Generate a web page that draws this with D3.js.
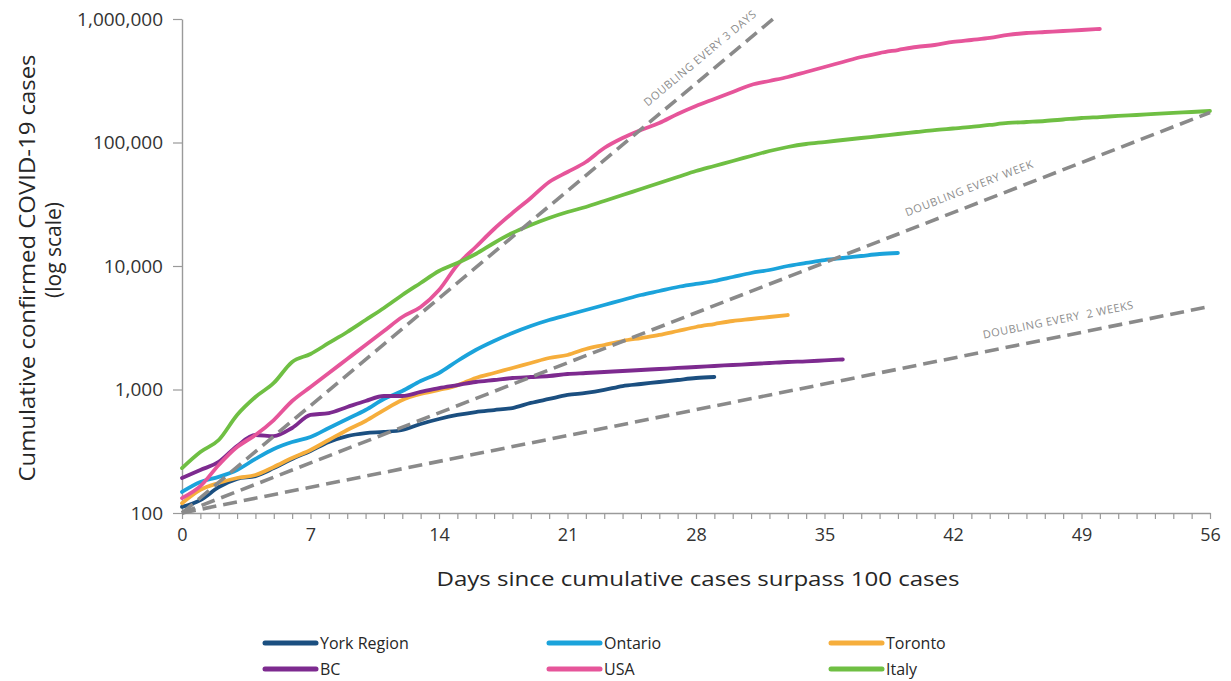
<!DOCTYPE html>
<html>
<head>
<meta charset="utf-8">
<script src="https://cdn.jsdelivr.net/npm/d3@7"></script>
<style>
  body { margin: 0; background: #fff; }
</style>
</head>
<body>
<div id="chart"></div>
<script>
// cumulative cases, one value per day since the 100th case (day 0 first)
var yorkRegion = [112, 127, 162, 189, 199, 231, 274, 318, 376, 420, 444, 453, 470, 526, 577, 622, 657, 682, 708, 778,
  838, 903, 937, 991, 1067, 1108, 1150, 1194, 1239, 1262];
var ontario = [148, 178, 196, 223, 274, 330, 376, 413, 488, 577, 682, 838, 972, 1172, 1360, 1701, 2088, 2470, 2868, 3268,
  3653, 4011, 4402, 4833, 5305, 5825, 6276, 6761, 7150, 7560, 8145, 8777, 9282, 10000, 10580, 11180, 11610, 12050, 12510, 12740];
var toronto = [120, 154, 175, 192, 203, 236, 279, 324, 390, 470, 556, 682, 822, 920, 991, 1080, 1240, 1360, 1494, 1639,
  1799, 1903, 2128, 2293, 2470, 2612, 2763, 2976, 3207, 3391, 3586, 3722, 3864, 4011];
var bc = [192, 223, 259, 349, 428, 420, 488, 622, 645, 722, 807, 886, 886, 955, 1028, 1087, 1150, 1194, 1239, 1262,
  1286, 1335, 1360, 1386, 1412, 1439, 1466, 1494, 1521, 1550, 1579, 1609, 1639, 1670, 1690, 1720, 1750];
var usa = [132, 165, 245, 342, 428, 566, 807, 1048, 1360, 1766, 2293, 2976, 3864, 4656, 6392, 10190, 14250, 19940, 26860, 35530,
  47880, 57690, 69530, 90260, 108750, 126200, 143850, 170100, 197500, 225000, 256400, 292200, 314800, 339200, 372300, 408700,
  448600, 492400, 530400, 561000, 593300, 615900, 651400, 676100, 701900, 742200, 770400, 784900, 799600, 814700, 829800];
var italy = [231, 312, 390, 622, 870, 1129, 1670, 1939, 2380, 2922, 3653, 4570, 5825, 7285, 9110, 10580, 12510, 15360, 18500, 21480,
  24480, 27370, 30040, 33600, 37570, 42020, 46990, 52560, 58780, 64520, 70850, 77760, 85370, 91950, 97250, 100900, 104760,
  108750, 112870, 117200, 121600, 126200, 129800, 133600, 138700, 143900, 146600, 149300, 153500, 157900, 160800, 164000,
  167000, 170200, 173400, 176600, 179900];

var seriesNames = ["York Region", "Ontario", "Toronto", "BC", "USA", "Italy"];
var seriesValues = [yorkRegion, ontario, toronto, bc, usa, italy];

// reference lines all start at 100 cases on day 0: [day, cases] at the end
var guideNames = ["DOUBLING EVERY 3 DAYS", "DOUBLING EVERY WEEK", "DOUBLING EVERY  2 WEEKS"];
var guideEnds = [[32.2, 1000000], [56, 175000], [56, 4700]];
var guideLabelDays = [28.8, 43.2, 47.9];
var guideLabelLen = [142, 136, 153];

var yTicks = [100, 1000, 10000, 100000, 1000000];
var xDays = d3.range(0, 57);

var colors = ["#1b4f80", "#1ba3db", "#f6ae3c", "#7d2a8f", "#e6559a", "#6fbf43"];

var svgWidth = 1231;
var svgHeight = 681;

var margin = {
  top: 19,
  right: 21,
  bottom: 168,
  left: 182
};

var width = svgWidth - margin.left - margin.right;
var height = svgHeight - margin.top - margin.bottom;

var svg = d3.select("#chart")
  .append("svg")
  .attr("width", svgWidth)
  .attr("height", svgHeight)
  .style("font-family", "'Open Sans', sans-serif");

var chartGroup = svg.append("g")
  .attr("transform", `translate(${margin.left}, ${margin.top})`);

// scales
var xScale = d3.scaleLinear().domain([0, 56]).range([0, width]);
var yScale = d3.scaleLog().domain([100, 1000000]).range([height, 0]);

// axes
var xAxis = d3.axisBottom(xScale)
  .tickValues(xDays)
  .tickSize(6)
  .tickSizeOuter(0)
  .tickPadding(9)
  .tickFormat(d => d % 7 === 0 ? d : "");

var yAxis = d3.axisLeft(yScale)
  .tickValues(yTicks)
  .tickSize(9)
  .tickSizeOuter(0)
  .tickPadding(10)
  .tickFormat(d3.format(","));

var xG = chartGroup.append("g").attr("transform", `translate(0, ${height})`).call(xAxis);
var yG = chartGroup.append("g").call(yAxis);

[xG, yG].forEach(function(g) {
  g.select(".domain").attr("stroke", "#9a9a9a").attr("stroke-width", 1.4);
  g.selectAll(".tick line").attr("stroke", "#9a9a9a").attr("stroke-width", 1.2);
  g.selectAll(".tick text").attr("fill", "#333").attr("font-family", "'Open Sans', sans-serif");
});
xG.selectAll(".tick text").attr("font-size", "18px");
yG.selectAll(".tick text").attr("font-size", "19px");

// country / region lines
var line = d3.line()
  .x((d, i) => xScale(i))
  .y(d => yScale(d))
  .curve(d3.curveMonotoneX);

chartGroup.append("g")
  .selectAll("path")
  .data(seriesValues)
  .enter()
  .append("path")
  .attr("d", line)
  .attr("fill", "none")
  .attr("stroke", (d, i) => colors[i])
  .attr("stroke-width", 3.8)
  .attr("stroke-linejoin", "round")
  .attr("stroke-linecap", "round");

// doubling reference lines
var guideG = chartGroup.append("g");

guideEnds.forEach(function(end, i) {
  var x0 = xScale(0), y0 = yScale(100);
  var x1 = xScale(end[0]), y1 = yScale(end[1]);

  guideG.append("line")
    .attr("x1", x0).attr("y1", y0)
    .attr("x2", x1).attr("y2", y1)
    .attr("stroke", "#8a8a8a")
    .attr("stroke-width", 3.6)
    .attr("stroke-dasharray", "14,7");

  var angle = Math.atan2(y1 - y0, x1 - x0) * 180 / Math.PI;
  var t = guideLabelDays[i];
  var v = 100 * Math.pow(end[1] / 100, t / end[0]);

  guideG.append("text")
    .attr("transform", `translate(${xScale(t)}, ${yScale(v)}) rotate(${angle})`)
    .attr("dy", -13)
    .attr("text-anchor", "middle")
    .attr("font-size", "11px")
    .attr("fill", "#8c8c8c")
    .attr("textLength", guideLabelLen[i])
    .attr("lengthAdjust", "spacing")
    .style("white-space", "pre")
    .text(guideNames[i]);
});

// axes titles
chartGroup.append("text")
  .attr("x", 698 - margin.left)
  .attr("y", 586 - margin.top)
  .attr("text-anchor", "middle")
  .attr("font-size", "20px")
  .attr("fill", "#262626")
  .attr("textLength", 523)
  .attr("lengthAdjust", "spacingAndGlyphs")
  .text("Days since cumulative cases surpass 100 cases");

svg.append("text")
  .attr("transform", "translate(35, 268) rotate(-90)")
  .attr("text-anchor", "middle")
  .attr("font-size", "21px")
  .attr("fill", "#262626")
  .attr("textLength", 427)
  .attr("lengthAdjust", "spacingAndGlyphs")
  .text("Cumulative confirmed COVID-19 cases");

svg.append("text")
  .attr("transform", "translate(61, 250) rotate(-90)")
  .attr("text-anchor", "middle")
  .attr("font-size", "21px")
  .attr("fill", "#262626")
  .text("(log scale)");

// legend, 3 columns x 2 rows
var legendCols = [263, 547, 829];
var legendRows = [643, 669];

var legend = svg.append("g")
  .selectAll("g")
  .data(seriesNames)
  .enter()
  .append("g")
  .attr("transform", (d, i) => `translate(${legendCols[i % 3]}, ${legendRows[Math.floor(i / 3)]})`);

legend.append("line")
  .attr("x1", 2).attr("x2", 53)
  .attr("stroke", (d, i) => colors[i])
  .attr("stroke-width", 5)
  .attr("stroke-linecap", "round");

legend.append("text")
  .attr("x", 57)
  .attr("dy", "0.35em")
  .attr("font-size", "16px")
  .attr("fill", "#262626")
  .text(d => d);
</script>
</body>
</html>
